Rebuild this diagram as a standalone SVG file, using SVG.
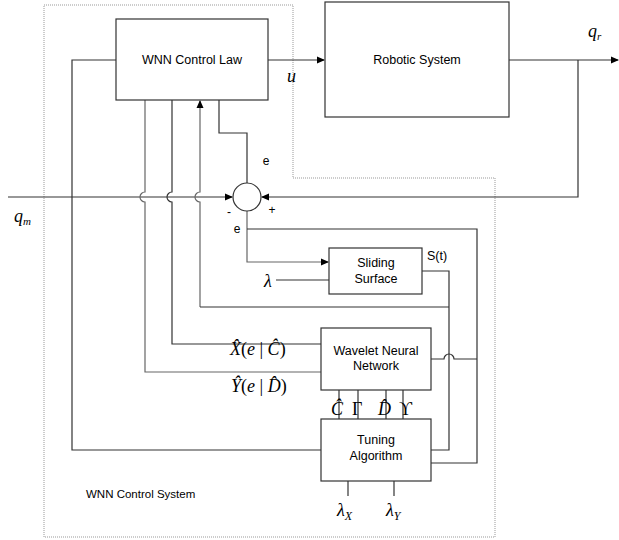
<svg xmlns="http://www.w3.org/2000/svg" width="619" height="540" viewBox="0 0 619 540">
<style>
.box{fill:#fff;stroke:#333;stroke-width:1.2}
.ln{fill:none;stroke:#333;stroke-width:1.2}
.gl{fill:none;stroke:#666;stroke-width:1.2}
.t{font-family:"Liberation Sans",Arial,sans-serif;font-size:12.5px;fill:#000;text-anchor:middle}
.m{font-family:"Liberation Serif","Times New Roman",serif;font-size:18px;font-style:italic;fill:#000}
.mu{font-family:"Liberation Serif","Times New Roman",serif;font-size:18px;fill:#000}
.i{font-style:italic}
.n{font-style:normal}
</style>
<defs>
<marker id="ar" markerWidth="8" markerHeight="8" refX="7" refY="4" orient="auto" markerUnits="userSpaceOnUse">
<path d="M0,0.5 L8,4 L0,7.5 Z" fill="#000"/>
</marker>
</defs>
<path d="M44,5 H293 V178 H495 V537 H44 Z" fill="none" stroke="#999" stroke-width="1" stroke-dasharray="1,1"/>
<g id="connectors">
<path class="ln" d="M268,60 H324" marker-end="url(#ar)"/>
<path class="ln" d="M509,60 H618" marker-end="url(#ar)"/>
<path class="ln" d="M578,60 V197 H262" marker-end="url(#ar)"/>
<path class="ln" d="M8,197 H232" marker-end="url(#ar)"/>
<path class="ln" d="M116,60 H72 V450 H321"/>
<path class="gl" d="M145,100 V192 A5,5 0 0 0 145,202 V372 H321"/>
<path class="ln" d="M172,100 V192 A5,5 0 0 0 172,202 V344 H321"/>
<path class="gl" d="M200,307 V202 A5,5 0 0 1 200,192 V101" marker-end="url(#ar)"/>
<path class="ln" d="M200,307 H449"/>
<path class="ln" d="M219,100 V133 H247 V183"/>
<path class="gl" d="M247,211 V262 H328" marker-end="url(#ar)"/>
<path class="ln" d="M247,229 H477 V463 H431"/>
<path class="ln" d="M276,280 H329"/>
<path class="ln" d="M422,271 H449 V450 H431"/>
<path class="ln" d="M431,359 H444 A5,5 0 0 1 454,359 H477"/>
<path class="ln" d="M339,419 V390"/>
<path class="ln" d="M358,419 V390"/>
<path class="ln" d="M386,419 V390"/>
<path class="ln" d="M403,419 V390"/>
<path class="ln" d="M348,481 V496"/>
<path class="ln" d="M394,481 V496"/>
</g>
<g id="wnn-control-law">
<rect class="box" x="116" y="19" width="152" height="81"/>
<text class="t" x="192" y="64">WNN Control Law</text>
</g>
<g id="robotic-system">
<rect class="box" x="325" y="2" width="184" height="115"/>
<text class="t" x="417" y="64">Robotic System</text>
</g>
<g id="sum">
<circle cx="247" cy="197" r="14" fill="#fff" stroke="#333" stroke-width="1.2"/>
</g>
<g id="sliding-surface">
<rect class="box" x="329" y="248" width="93" height="46"/>
<text class="t" x="376" y="267">Sliding</text>
<text class="t" x="376" y="283">Surface</text>
</g>
<g id="wavelet-nn">
<rect class="box" x="321" y="328" width="110" height="62"/>
<text class="t" x="376" y="355">Wavelet Neural</text>
<text class="t" x="376" y="370">Network</text>
</g>
<g id="tuning">
<rect class="box" x="321" y="419" width="110" height="62"/>
<text class="t" x="376" y="444">Tuning</text>
<text class="t" x="376" y="460">Algorithm</text>
</g>
<g id="labels">
<text class="m" x="287" y="82" font-size="17">u</text>
<text class="m" x="588" y="37">q<tspan font-size="11" dy="3">r</tspan></text>
<text class="m" x="14" y="222">q<tspan font-size="11" dy="3">m</tspan></text>
<text class="t" x="266" y="165" style="font-size:12px">e</text>
<text class="t" x="237" y="233" style="font-size:12px">e</text>
<text class="t" x="229" y="216" style="font-size:12px">-</text>
<text class="t" x="272" y="214" style="font-size:12px">+</text>
<text class="t" x="437" y="260" style="font-size:12.5px">S(t)</text>
<text class="m" x="264" y="287">λ</text>
<text class="mu" x="230" y="355" xml:space="preserve"><tspan class="i">X̂</tspan>(<tspan class="i">e</tspan> | <tspan class="i">Ĉ</tspan>)</text>
<text class="mu" x="231" y="392" xml:space="preserve"><tspan class="i">Ŷ</tspan>(<tspan class="i">e</tspan> | <tspan class="i">D̂</tspan>)</text>
<text class="m" x="331" y="415">Ĉ</text>
<text class="mu" x="352" y="415">Γ</text>
<text class="m" x="378" y="415">D̂</text>
<text class="mu" x="399" y="415">ϒ</text>
<text class="m" x="337" y="516">λ<tspan font-size="12" dy="4">X</tspan></text>
<text class="m" x="386" y="516">λ<tspan font-size="12" dy="4">Y</tspan></text>
<text x="86" y="498" style="font-family:'Liberation Sans',Arial,sans-serif;font-size:11.5px">WNN Control System</text>
</g>
</svg>
